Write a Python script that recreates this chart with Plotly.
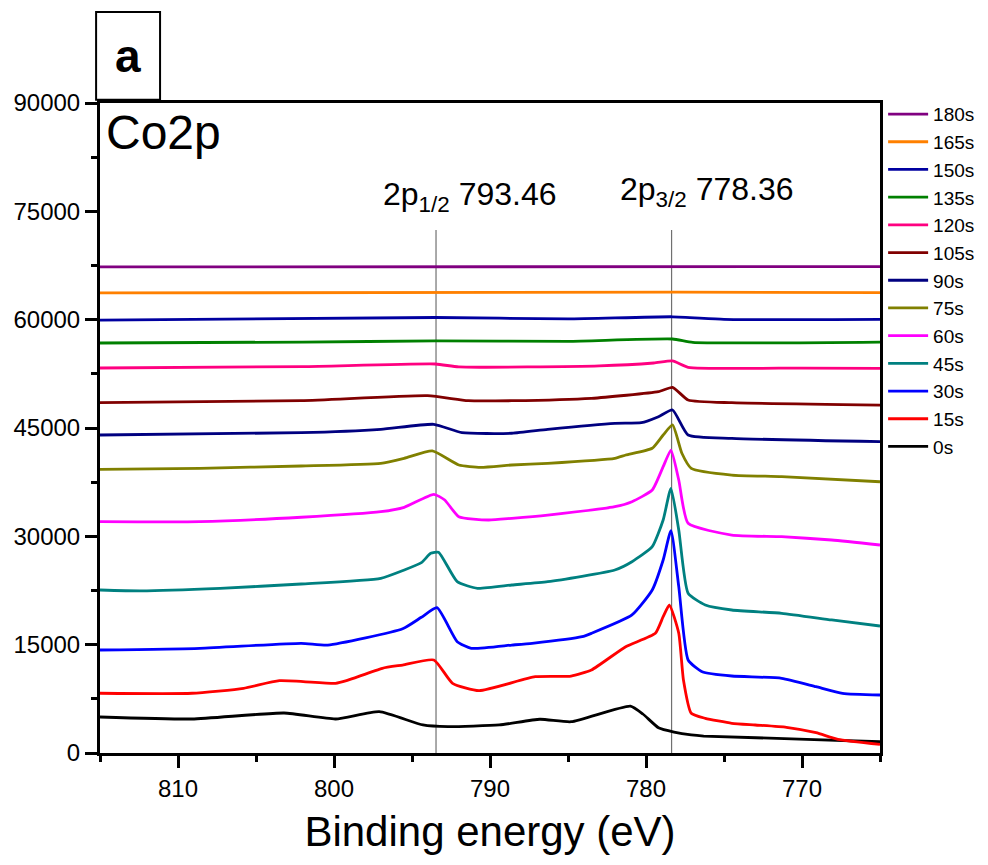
import plotly.graph_objects as go

# ---- data (binding energy in eV, intensity in counts) ----
labels = ["0s", "15s", "30s", "45s", "60s", "75s", "90s", "105s", "120s", "135s", "150s", "165s", "180s"]
colors = ["#000000", "#ff0000", "#0000ff", "#008080", "#ff00ff", "#808000", "#000080",
          "#800000", "#ff0080", "#008000", "#0000a0", "#ff8000", "#800080"]

e_0s = [815, 809.1, 803.2, 799.9, 797.1, 794.3, 792.7, 789.4, 786.8, 784.8, 781.0, 780.2, 779.2, 778.2, 777.1, 776.3, 769.7, 765]
i_0s = [4985, 4710, 5540, 4710, 5720, 3880, 3640, 3880, 4670, 4330, 6500, 5400, 3500, 2900, 2500, 2350, 1900, 1560]

e_15s = [815, 809.1, 805.8, 803.5, 799.9, 799.2, 796.9, 795.6, 793.6, 792.4, 790.7, 787.1, 784.8, 783.5, 781.3,
         779.4, 778.9, 778.5, 777.9, 777.6, 777.1, 776.2, 774.5, 773.0, 771.0, 769.1, 767.7, 765]
i_15s = [8270, 8270, 8960, 10010, 9650, 10010, 11730, 12180, 12880, 9650, 8630, 10560, 10660, 11490, 14720,
         16570, 18870, 20490, 16570, 10110, 5500, 4800, 4110, 3880, 3560, 2810, 1900, 1200]

e_30s = [815, 808.6, 802.1, 800.4, 795.6, 794.4, 793.4, 792.1, 791.2, 788.6, 787.3, 784.1, 783.5, 780.9,
         779.6, 778.9, 778.4, 777.9, 777.3, 776.4, 774.5, 771.3, 769.1, 767.4, 765]
i_30s = [14260, 14500, 15190, 14950, 17200, 18790, 20120, 15410, 14500, 14950, 15190, 16100, 16570, 19110,
         22570, 26720, 30780, 23030, 12880, 11260, 10660, 10340, 9180, 8270, 8030]

e_45s = [815, 812.4, 807.3, 802.1, 797.0, 795.5, 794.4, 793.8, 793.3, 792.1, 790.8, 788.6, 786.3, 782.0,
         780.9, 779.6, 778.9, 778.4, 777.9, 777.3, 776.2, 774.5, 771.3, 768.1, 765]
i_45s = [22570, 22450, 22800, 23400, 24190, 25340, 26350, 27650, 27800, 23720, 22800, 23260, 23720, 25340,
         26490, 28560, 32260, 36650, 30880, 22110, 20490, 19800, 19340, 18420, 17580]

e_60s = [815, 808.6, 802.1, 797.0, 795.5, 793.6, 792.9, 792.0, 790.1, 788.6, 786.3, 782.0, 780.9, 779.6,
         778.9, 778.4, 777.9, 777.3, 774.5, 771.3, 768.1, 765]
i_60s = [32030, 32030, 32640, 33410, 34020, 35820, 35030, 32720, 32260, 32500, 32950, 34100, 34800, 36410,
         39640, 41950, 37800, 31800, 30180, 29950, 29490, 28800]

e_75s = [815, 808.6, 802.1, 797.0, 795.5, 793.7, 792.0, 790.6, 788.6, 786.3, 782.0, 781.3, 779.6, 778.9,
         778.3, 777.7, 777.1, 774.5, 771.3, 765]
i_75s = [39280, 39420, 39740, 40110, 40800, 41820, 39880, 39560, 39880, 40110, 40800, 41260, 42190, 44030,
         45420, 41500, 39420, 38490, 38260, 37560]

e_90s = [815, 802.1, 797.0, 793.6, 791.8, 788.6, 786.3, 782.0, 780.3, 779.2, 778.3, 777.3, 774.5, 765]
i_90s = [44030, 44350, 44820, 45510, 44350, 44270, 44820, 45650, 45730, 46560, 47490, 44030, 43570, 43100]

e_105s = [815, 802.1, 794.0, 791.4, 788.6, 783.5, 779.2, 778.3, 777.3, 774.5, 765]
i_105s = [48500, 48780, 49470, 48780, 48780, 49110, 50030, 50630, 48880, 48500, 48180]

e_120s = [815, 802.0, 793.5, 792.0, 783.0, 779.5, 778.3, 777.3, 770.0, 765]
i_120s = [53310, 53500, 53860, 53450, 53600, 54000, 54280, 53400, 53300, 53250]

e_135s = [815, 802.0, 793.5, 785.0, 778.3, 777.0, 765]
i_135s = [56770, 56900, 57050, 57000, 57320, 56850, 56900]

e_150s = [815, 793.5, 785.0, 778.3, 775.0, 765]
i_150s = [59950, 60300, 60100, 60400, 60050, 60050]

e_165s = [815, 778.0, 765]
i_165s = [63700, 63800, 63750]

e_180s = [815, 765]
i_180s = [67300, 67350]

energies = [e_0s, e_15s, e_30s, e_45s, e_60s, e_75s, e_90s, e_105s, e_120s, e_135s, e_150s, e_165s, e_180s]
intensities = [i_0s, i_15s, i_30s, i_45s, i_60s, i_75s, i_90s, i_105s, i_120s, i_135s, i_150s, i_165s, i_180s]

peak_positions = [793.46, 778.36]
peak_texts = ["2p<sub>1/2</sub> 793.46", "2p<sub>3/2</sub> 778.36"]

x_ticks = [810, 800, 790, 780, 770]
y_ticks = [0, 15000, 30000, 45000, 60000, 75000, 90000]

FONT = "Liberation Sans, Arial, sans-serif"

fig = go.Figure()

# peak marker lines (drawn first so curves sit on top)
for p in peak_positions:
    fig.add_trace(go.Scatter(x=[p, p], y=[0, 72400], mode="lines",
                             line=dict(color="#707070", width=1.2),
                             showlegend=False, hoverinfo="skip"))

for lab, col, e, i in zip(labels, colors, energies, intensities):
    fig.add_trace(go.Scatter(x=e, y=i, mode="lines", name=lab,
                             line=dict(color=col, width=2.8, shape="spline", smoothing=0.5)))

fig.update_layout(
    width=988, height=865,
    margin=dict(l=100, r=108, t=103, b=112, autoexpand=False),
    paper_bgcolor="white", plot_bgcolor="white",
    font=dict(family=FONT, color="black"),
    legend=dict(x=1.004, xanchor="left", y=1.012, yanchor="top",
                traceorder="reversed", font=dict(size=19, family=FONT),
                bgcolor="rgba(0,0,0,0)", itemwidth=40),
    showlegend=True,
)

fig.update_xaxes(range=[815, 765], tickvals=x_ticks, ticks="outside", ticklen=12, tickwidth=3,
                 tickcolor="black", showline=True, linewidth=3, linecolor="black", mirror=True,
                 showgrid=False, zeroline=False, tickfont=dict(size=24, family=FONT),
                 minor=dict(dtick=5, ticks="outside", ticklen=6, tickwidth=3, tickcolor="black", showgrid=False),
                 title=dict(text="Binding energy (eV)", font=dict(size=42, family=FONT), standoff=16))

fig.update_yaxes(range=[0, 90000], tickvals=y_ticks, tickformat="d", ticks="outside", ticklen=12, tickwidth=3,
                 tickcolor="black", showline=True, linewidth=3, linecolor="black", mirror=True,
                 showgrid=False, zeroline=False, tickfont=dict(size=24, family=FONT),
                 minor=dict(dtick=7500, ticks="outside", ticklen=6, tickwidth=3, tickcolor="black", showgrid=False))

# peak labels
fig.add_annotation(x=791.3, y=77000, xref="x", yref="y", text=peak_texts[0], showarrow=False,
                   font=dict(size=32, family=FONT), xanchor="center", yanchor="middle")
fig.add_annotation(x=776.1, y=77700, xref="x", yref="y", text=peak_texts[1], showarrow=False,
                   font=dict(size=32, family=FONT), xanchor="center", yanchor="middle")

# element label
fig.add_annotation(x=0.005, y=0.998, xref="paper", yref="paper", text="Co2p", showarrow=False,
                   font=dict(size=48, family=FONT), xanchor="left", yanchor="top")

# panel label box
fig.add_shape(type="rect", xref="paper", yref="paper", x0=-0.005, x1=0.077, y0=1.005, y1=1.14,
              line=dict(color="black", width=2), fillcolor="white")
fig.add_annotation(x=0.036, y=1.072, xref="paper", yref="paper", text="<b>a</b>", showarrow=False,
                   font=dict(size=46, family=FONT), xanchor="center", yanchor="middle")

fig.write_html("out.html")
